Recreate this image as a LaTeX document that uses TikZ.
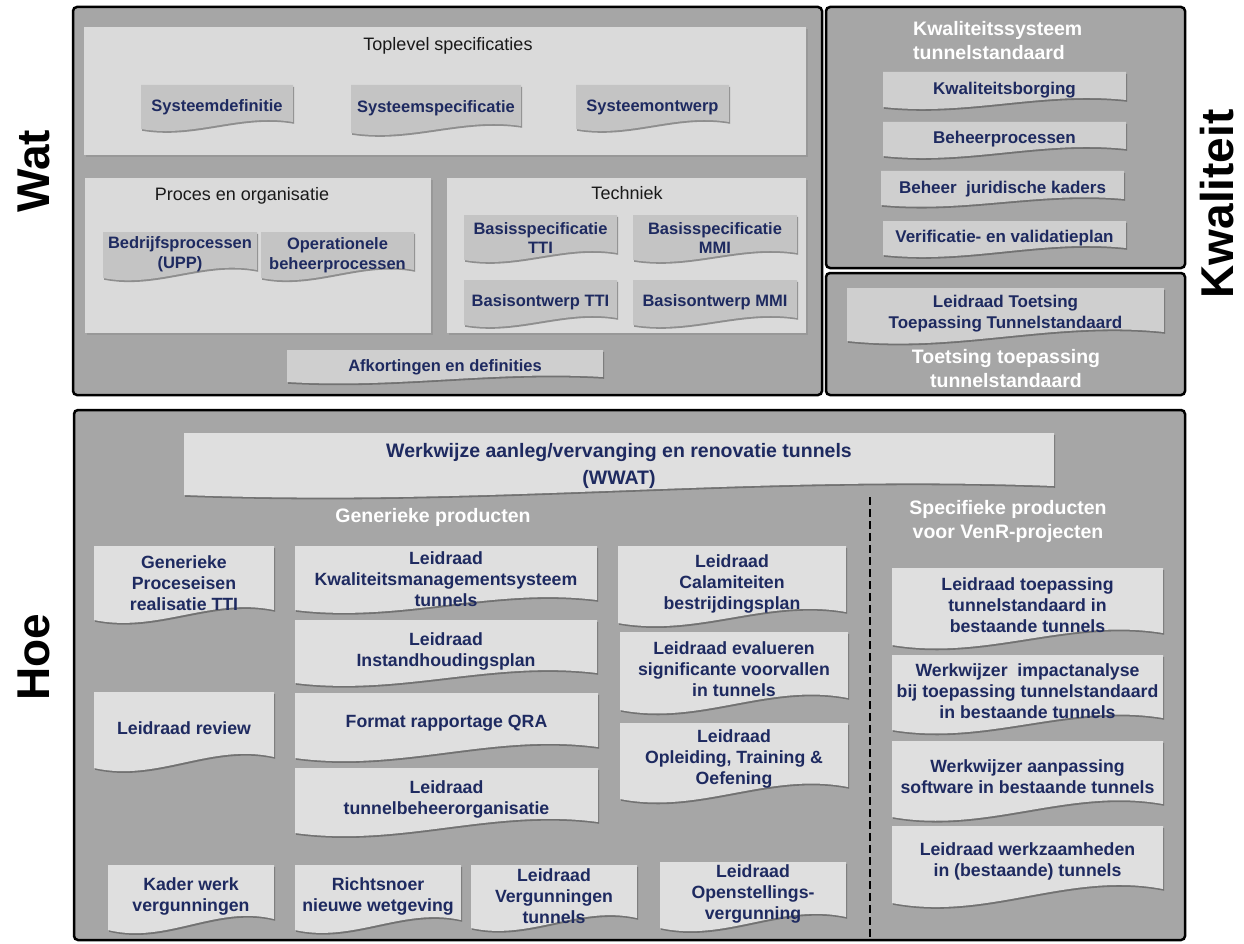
\documentclass[tikz,border=0pt]{standalone}
\usepackage{fontspec}
\setmainfont{Liberation Sans}
\usetikzlibrary{shadows}

\definecolor{outergray}{RGB}{166,166,166}
\definecolor{panelgray}{RGB}{218,218,218}
\definecolor{darkdoc}{RGB}{196,196,196}
\definecolor{middoc}{RGB}{207,207,207}
\definecolor{lightdoc}{RGB}{223,223,223}
\definecolor{navy}{RGB}{30,42,96}
\definecolor{titlegray}{RGB}{25,25,25}

% document symbol: rectangle with a wavy lower edge and a label in the middle
% #1 name, #2 left, #3 top, #4 right, #5 bottom at left, #6 bottom at right,
% #7 label centre y, #8 style family, #9 label
\newcommand{\docbox}[9]{%
  \path[#8 shape] (#2,#3) -- (#4,#3) -- (#4,#6)
    .. controls ({#4-0.35*(#4-#2)},{#6-1.3*(#5-#6)}) and ({#2+0.35*(#4-#2)},{#5+1.3*(#5-#6)}) .. (#2,#5) -- cycle;
  \node[#8 text] (#1) at ({(#2+#4)/2},#7) {#9};
}

\begin{document}
\begin{tikzpicture}[x=1pt,y=-1pt,
  outerbox/.style={draw=black, line width=2.5pt, rounded corners=4pt, fill=outergray},
  panel/.style={fill=panelgray, drop shadow={shadow xshift=1.5pt, shadow yshift=-2pt, opacity=0.35}},
  docshadow/.style={drop shadow={shadow xshift=1.2pt, shadow yshift=-1.8pt, opacity=0.45, fill=black!80}},
  basetext/.style={text=navy, align=center, inner sep=0pt},
  wat shape/.style={fill=darkdoc, docshadow},
  wat text/.style={basetext, font=\fontsize{16.5}{19.5}\selectfont\bfseries},
  afk shape/.style={fill=middoc, docshadow},
  afk text/.style={basetext, font=\fontsize{16.5}{19.5}\selectfont\bfseries},
  kw shape/.style={fill=middoc, docshadow},
  kw text/.style={basetext, font=\fontsize{17}{21}\selectfont\bfseries},
  hoe shape/.style={fill=lightdoc, docshadow},
  hoe text/.style={basetext, font=\fontsize{17.7}{21}\selectfont\bfseries},
  wide shape/.style={fill=lightdoc, docshadow},
  wide text/.style={basetext, font=\fontsize{19.5}{27}\selectfont\bfseries},
  paneltitle/.style={text=titlegray, inner sep=0pt, font=\fontsize{18}{21}\selectfont},
  whitetitle/.style={text=white, inner sep=0pt, font=\fontsize{19.5}{24}\selectfont\bfseries},
  bigword/.style={rotate=90, inner sep=0pt, font=\fontsize{46}{46}\selectfont\bfseries}
]
\useasboundingbox (0,0) rectangle (1244,944);
\fill[white] (0,0) rectangle (1244,944);

% ---------- Wat ----------
\draw[outerbox] (73,7) rectangle (822,395);
\fill[panel] (84,27) rectangle (806,155);
\fill[panel] (85,178) rectangle (431,333);
\fill[panel] (447,178) rectangle (806,333);

\node[paneltitle] (toplevel) at (448,46) {Toplevel specificaties};
\node[paneltitle] (proces) at (242,196) {Proces en organisatie};
\node[paneltitle] (techniek) at (627,193) {Techniek};

\docbox{sysdef}{141}{85}{293}{129}{122}{107}{wat}{Systeemdefinitie}
\docbox{sysspec}{351}{85}{521}{133}{126}{108}{wat}{Systeemspecificatie}
\docbox{sysontw}{576}{85}{729}{129}{122}{107}{wat}{Systeemontwerp}

\docbox{bedrijf}{103}{232}{257}{278}{270}{254}{wat}{Bedrijfsprocessen\\(UPP)}
\docbox{operat}{261}{232}{414}{278}{270}{255}{wat}{Operationele\\beheerprocessen}

\docbox{bsptti}{464}{215}{617}{260}{253}{238}{wat}{Basisspecificatie\\TTI}
\docbox{bspmmi}{633}{215}{797}{260}{253}{238}{wat}{Basisspecificatie\\MMI}
\docbox{bontti}{464}{280}{617}{325}{318}{302}{wat}{Basisontwerp TTI}
\docbox{bonmmi}{633}{280}{797}{325}{318}{302}{wat}{Basisontwerp MMI}

\docbox{afk}{287}{350}{603}{382}{377}{367}{afk}{Afkortingen en definities}

% ---------- Kwaliteit ----------
\draw[outerbox] (826,7) rectangle (1185,268);
\node[whitetitle, align=left, anchor=west] (kwsys) at (913,41) {Kwaliteitssysteem\\tunnelstandaard};

\docbox{kwb}{883}{72}{1126}{107}{100}{90}{kw}{Kwaliteitsborging}
\docbox{bhp}{883}{122}{1126}{156}{149}{139}{kw}{Beheerprocessen}
\docbox{bjk}{881}{171}{1124}{205}{199}{189}{kw}{Beheer\ \ juridische kaders}
\docbox{vvp}{883}{221}{1126}{255}{248}{238}{kw}{Verificatie- en validatieplan}

\draw[outerbox] (826,273) rectangle (1185,395);
\docbox{ltt}{847}{288}{1164}{341}{332}{314}{kw}{Leidraad Toetsing\\Toepassing Tunnelstandaard}
\node[whitetitle, align=center] (toets) at (1006,369) {Toetsing toepassing\\tunnelstandaard};

% ---------- Hoe ----------
\draw[outerbox] (74,410) rectangle (1185,940);
\docbox{wwat}{184}{433}{1054}{495}{486}{466}{wide}{Werkwijze aanleg/vervanging en renovatie tunnels\\(WWAT)}

\node[whitetitle] (generiek) at (433,517) {Generieke producten};
\node[whitetitle, align=center] (specifiek) at (1008,521) {Specifieke producten\\voor VenR-projecten};

\coordinate (dtop) at (870,497);
\coordinate (dbot) at (870,937);
\draw[black, line width=2.5pt, dash pattern=on 8pt off 4pt] (dtop) -- (dbot);

\docbox{gpr}{94}{546}{274}{620}{610}{583}{hoe}{Generieke\\Proceseisen\\realisatie TTI}
\docbox{lrev}{94}{692}{274}{768}{757}{728}{hoe}{Leidraad review}
\docbox{kwv}{108}{865}{274}{930}{919}{896}{hoe}{Kader werk\\vergunningen}

\docbox{lks}{295}{546}{597}{610}{600}{579}{hoe}{Leidraad\\Kwaliteitsmanagementsysteem\\tunnels}
\docbox{lin}{295}{620}{597}{683}{673}{651}{hoe}{Leidraad\\Instandhoudingsplan}
\docbox{fqra}{295}{693}{598}{758}{747}{723}{hoe}{Format rapportage QRA}
\docbox{ltbo}{295}{768}{598}{833}{822}{799}{hoe}{Leidraad\\tunnelbeheerorganisatie}
\docbox{rnw}{295}{865}{461}{930}{920}{896}{hoe}{Richtsnoer\\nieuwe wetgeving}
\docbox{lvt}{471}{865}{637}{928}{918}{896}{hoe}{Leidraad\\Vergunningen\\tunnels}

\docbox{lcal}{618}{546}{846}{623}{612}{584}{hoe}{Leidraad\\Calamiteiten\\bestrijdingsplan}
\docbox{lev}{620}{632}{848}{710}{698}{669}{hoe}{Leidraad evalueren\\significante voorvallen\\in tunnels}
\docbox{lopl}{620}{723}{848}{799}{787}{759}{hoe}{Leidraad\\Opleiding, Training \&\\Oefening}
\docbox{lov}{660}{862}{846}{928}{917}{894}{hoe}{Leidraad\\Openstellings-\\vergunning}

\docbox{ltb}{892}{568}{1163}{645}{633}{605}{hoe}{Leidraad toepassing\\tunnelstandaard in\\bestaande tunnels}
\docbox{wia}{892}{655}{1163}{730}{718}{691}{hoe}{Werkwijzer\ \ impactanalyse\\bij toepassing tunnelstandaard\\in bestaande tunnels}
\docbox{wap}{892}{741}{1163}{817}{804}{777}{hoe}{Werkwijzer aanpassing\\software in bestaande tunnels}
\docbox{lwz}{892}{826}{1163}{903}{889}{861}{hoe}{Leidraad werkzaamheden\\in (bestaande) tunnels}

% ---------- side labels ----------
\node[bigword] (wat) at (34,171) {Wat};
\node[bigword] (hoe) at (34,657) {Hoe};
\node[bigword] (kwaliteit) at (1217,204) {Kwaliteit};
\end{tikzpicture}
\end{document}
